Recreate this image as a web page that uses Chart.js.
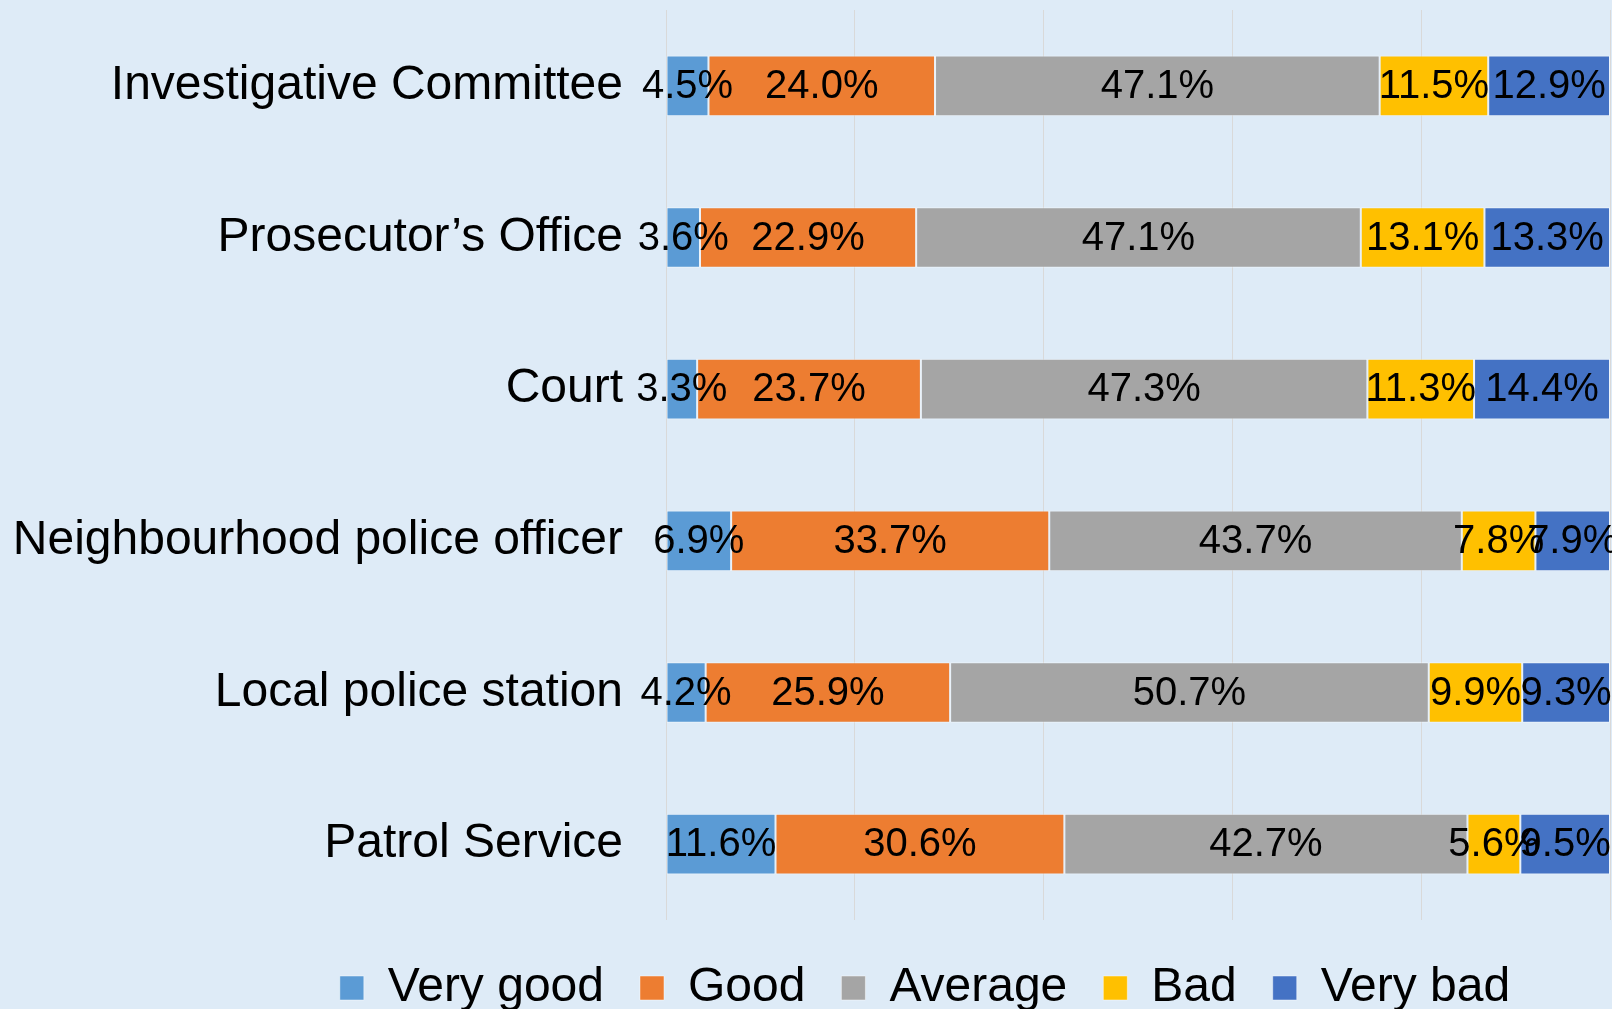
<!DOCTYPE html>
<html>
<head>
<meta charset="utf-8">
<script src="https://cdn.jsdelivr.net/npm/chart.js@4"></script>
<style>
  html, body { margin: 0; padding: 0; background: #deebf7; }
  canvas { display: block; }
</style>
</head>
<body>
<canvas id="ratingChart" width="1612" height="1009"></canvas>
<script>
const categories = [
  "Investigative Committee",
  "Prosecutor\u2019s Office",
  "Court",
  "Neighbourhood police officer",
  "Local police station",
  "Patrol Service"
];
const veryGood = [4.5, 3.6, 3.3, 6.9, 4.2, 11.6];
const good = [24.0, 22.9, 23.7, 33.7, 25.9, 30.6];
const average = [47.1, 47.1, 47.3, 43.7, 50.7, 42.7];
const bad = [11.5, 13.1, 11.3, 7.8, 9.9, 5.6];
const veryBad = [12.9, 13.3, 14.4, 7.9, 9.3, 9.5];
const xTicks = [0, 20, 40, 60, 80, 100];

const fontFamily = '"Liberation Sans", Arial, sans-serif';

// draw the % value in the middle of every segment
const segmentLabels = {
  id: 'segmentLabels',
  afterDatasetsDraw(chart) {
    const ctx = chart.ctx;
    ctx.save();
    ctx.font = '40px ' + fontFamily;
    ctx.fillStyle = '#000';
    ctx.textAlign = 'center';
    ctx.textBaseline = 'middle';
    chart.data.datasets.forEach((ds, i) => {
      chart.getDatasetMeta(i).data.forEach((bar, j) => {
        const cx = (bar.x + bar.base) / 2;
        ctx.fillText(ds.data[j].toFixed(1) + '%', cx, bar.y + 1);
      });
    });
    ctx.restore();
  }
};

// nudge the legend to where it sits in the original
const legendShift = {
  id: 'legendShift',
  afterLayout(chart) {
    const lg = chart.legend;
    lg.left += 113;
    lg.right += 113;
    lg.top += 8;
    lg.bottom += 8;
  }
};

const ctx = document.getElementById('ratingChart').getContext('2d');
new Chart(ctx, {
  type: 'bar',
  data: {
    labels: categories,
    datasets: [
      { label: 'Very good', data: veryGood, backgroundColor: '#5b9bd5' },
      { label: 'Good', data: good, backgroundColor: '#ed7d31' },
      { label: 'Average', data: average, backgroundColor: '#a5a5a5' },
      { label: 'Bad', data: bad, backgroundColor: '#ffc000' },
      { label: 'Very bad', data: veryBad, backgroundColor: '#4472c4' }
    ]
  },
  options: {
    indexAxis: 'y',
    responsive: false,
    animation: false,
    datasets: {
      bar: {
        categoryPercentage: 1,
        barPercentage: 0.4,
        borderWidth: 1,
        borderColor: 'rgba(255,255,255,0.45)',
        borderSkipped: false
      }
    },
    layout: { padding: { left: 14, right: 2, top: 10, bottom: 5 } },
    scales: {
      x: {
        stacked: true,
        min: 0,
        max: 100,
        afterBuildTicks(scale) {
          scale.ticks = xTicks.map(v => ({ value: v }));
        },
        ticks: { display: false },
        grid: { color: '#d9d9d9', lineWidth: 1, drawTicks: false },
        border: { display: false }
      },
      y: {
        stacked: true,
        afterFit(scale) {
          scale.width = 652;
          scale.paddingTop = 0;
          scale.paddingBottom = 0;
        },
        ticks: {
          color: '#000',
          padding: 43,
          font: { family: fontFamily, size: 48 }
        },
        grid: { display: false, drawTicks: false },
        border: { display: false }
      }
    },
    plugins: {
      tooltip: { enabled: false },
      legend: {
        position: 'bottom',
        maxHeight: 84,
        labels: {
          color: '#000',
          boxWidth: 24,
          boxHeight: 24,
          padding: 36,
          font: { family: fontFamily, size: 48 }
        }
      }
    }
  },
  plugins: [segmentLabels, legendShift]
});
</script>
</body>
</html>
